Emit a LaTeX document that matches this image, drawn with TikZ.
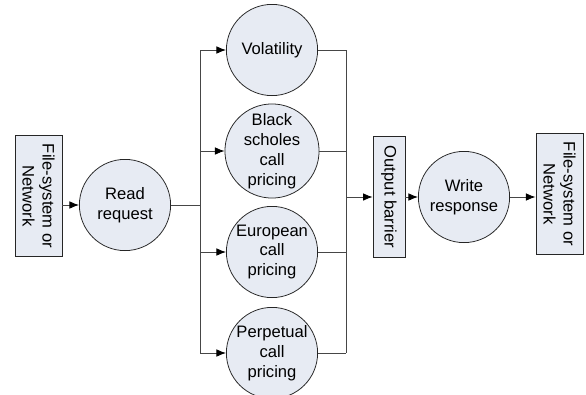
\documentclass[tikz,border=0pt]{standalone}
\usepackage{fontspec}
\setmainfont{Liberation Sans}
\usepackage{xcolor}
\usepackage{tikz}
\usetikzlibrary{arrows.meta}

\definecolor{procfill}{RGB}{231,235,243}
\definecolor{linegray}{RGB}{70,70,70}

\begin{document}
\begin{tikzpicture}[
		x=0.025cm, y=-0.025cm,
		every node/.style={font=\fontsize{11.8}{14.2}\selectfont},
		proc/.style={circle, draw=black!85, line width=0.55pt, fill=procfill, minimum size=2.28cm, inner sep=0pt, align=center},
		io/.style={rectangle, draw=black!85, line width=0.55pt, fill=procfill, rotate=-90, minimum width=3.03cm, minimum height=1.18cm, inner sep=1pt, align=center},
		barrier/.style={rectangle, draw=black!85, line width=0.55pt, fill=procfill, rotate=-90, minimum width=3.03cm, minimum height=0.8cm, inner sep=1pt, align=center},
		wire/.style={draw=linegray, line width=0.6pt},
		arrow/.style={-{Latex[length=2.4mm,width=1.9mm,color=black]}, draw=linegray, line width=0.6pt}
	]
		\useasboundingbox (0,0) rectangle (586,395);

		% Input and output
		\node[io] (src) at (38.5,196) {File-system or\\Network};
		\node[proc] (read) at (125,205) {Read\\request};
		\node[barrier] (outbar) at (389,197) {Output barrier};
		\node[proc] (write) at (464,197) {Write\\response};
		\node[io] (dst) at (559.5,194) {File-system or\\Network};

		% Pricing tasks
		\node[proc] (vol) at (272,50) {Volatility};
		\node[proc] (bsc) at (272,151) {Black\\scholes\\call\\pricing};
		\node[proc] (euro) at (272,252) {European\\call\\pricing};
		\node[proc] (perp) at (272,353) {Perpetual\\call\\pricing};

		% Fork and join points
		\coordinate (fork) at (200,205);
		\coordinate (join) at (346,197);

		% Arrows
		\draw[arrow] (read -| src.north) -- (read);
		\draw[wire] (read) -- (fork);
		\draw[wire] (fork |- vol) -- (fork |- perp);
		\draw[arrow] (fork |- vol) -- (vol);
		\draw[arrow] (fork |- bsc) -- (bsc);
		\draw[arrow] (fork |- euro) -- (euro);
		\draw[arrow] (fork |- perp) -- (perp);
		\draw[wire] (vol) -- (join |- vol);
		\draw[wire] (bsc) -- (join |- bsc);
		\draw[wire] (euro) -- (join |- euro);
		\draw[wire] (perp) -- (join |- perp);
		\draw[wire] (join |- vol) -- (join |- perp);
		\draw[arrow] (join) -- (join -| outbar.south);
		\draw[arrow] (write -| outbar.north) -- (write);
		\draw[arrow] (write) -- (write -| dst.south);
	\end{tikzpicture}
\end{document}
